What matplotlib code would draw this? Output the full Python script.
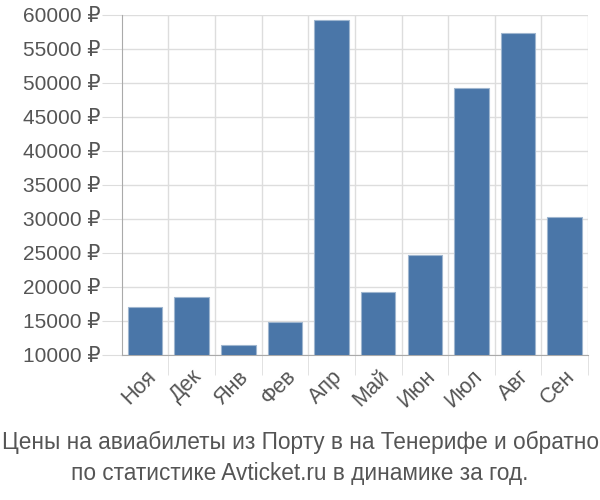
import numpy as np
import matplotlib.pyplot as plt

# Данные (оценка по картинке)
months = ['Ноя', 'Дек', 'Янв', 'Фев', 'Апр', 'Май', 'Июн', 'Июл', 'Авг', 'Сен']
prices = [17100, 18600, 11500, 14850, 59300, 19300, 24650, 49200, 57400, 30300]
yticks = list(range(10000, 60001, 5000))

plt.rcParams['font.family'] = ['Liberation Sans', 'DejaVu Sans']

fig = plt.figure(figsize=(6, 5), dpi=100)
ax = fig.add_axes([0.203, 0.29, 0.777, 0.68])

x = np.arange(len(months))
ax.bar(x, prices, width=0.74, color='#4a76a8', edgecolor='#9fb6cf', linewidth=0.8, zorder=3)

ax.set_xlim(-0.5, len(months) - 0.5)
ax.set_ylim(10000, 60000)

# сетка
ax.set_yticks(yticks)
ax.set_yticklabels([f'{v} ₽' for v in yticks])
ax.set_xticks(x)
ax.set_xticklabels(months, rotation=45, ha='right', rotation_mode='anchor')
ax.set_xticks(np.arange(0.5, len(months)), minor=True)
ax.grid(axis='y', color='#dddddd', linewidth=1, zorder=0)
ax.grid(axis='x', which='minor', color='#dddddd', linewidth=1, zorder=0)

ax.tick_params(axis='y', length=14.4, color='#dddddd', labelsize=15, labelcolor='#555555', pad=1)
ax.tick_params(axis='x', which='major', length=0, labelsize=15.5, labelcolor='#555555', pad=8)
ax.tick_params(axis='x', which='minor', length=14.4, color='#dddddd')

for s in ['top', 'right']:
    ax.spines[s].set_visible(False)
ax.spines['left'].set_color('#aaaaaa')
ax.spines['bottom'].set_color('#aaaaaa')

fig.text(0.5, 0.084, 'Цены на авиабилеты из Порту в на Тенерифе и обратно\nпо статистике Avticket.ru в динамике за год.',
         ha='center', va='center', fontsize=16.3, color='#555555', linespacing=1.4)

fig.savefig('out.png', dpi=100)
